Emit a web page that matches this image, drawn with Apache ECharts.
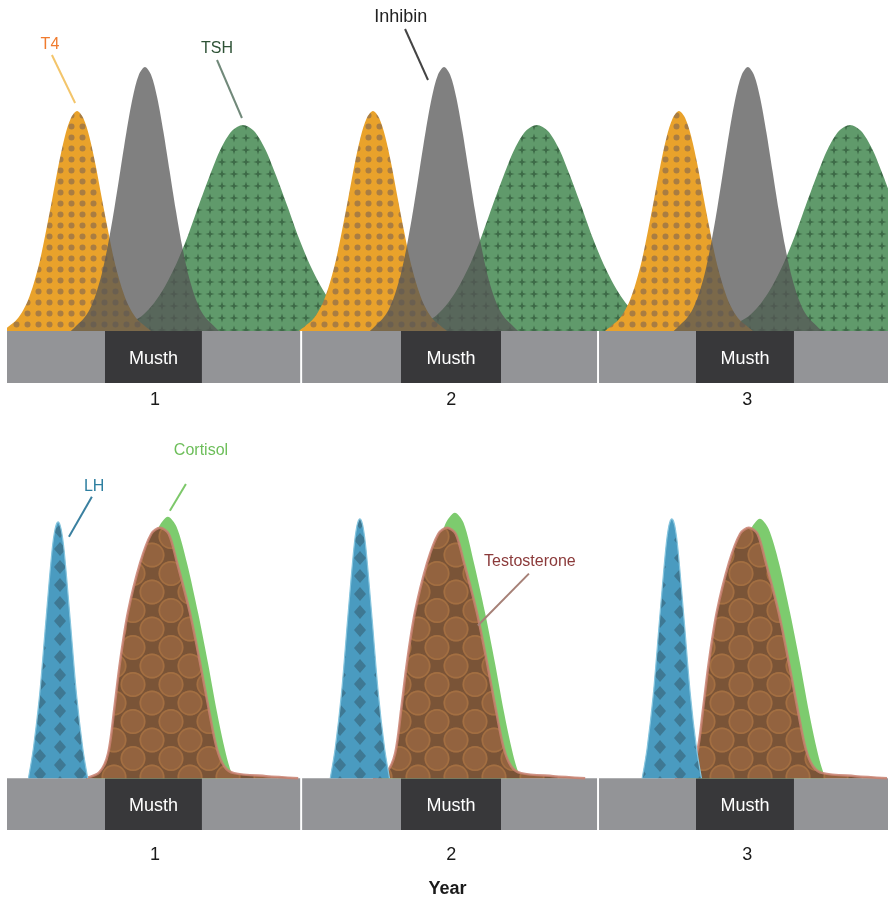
<!DOCTYPE html>
<html><head><meta charset="utf-8">
<script src="https://cdn.jsdelivr.net/npm/echarts@6/dist/echarts.min.js"></script>
<style>html,body{margin:0;padding:0;background:#fff}#c{width:888px;height:899px}</style>
</head><body><div id="c"></div>
<script>
// ---------- DATA (x = month since start, y = relative hormone level) ----------
const yearTicks = [6, 18, 30];
const yearLabels = ['1', '2', '3'];
const musthPeriods = [[3.97, 7.90], [15.96, 20.02], [27.92, 31.89]];
const yearBreaks = [11.92, 23.95];

const t4Level = [
  [-0.16,0],[0.09,5],[0.34,10],[0.59,18],[0.84,30],[1.09,48],[1.34,71],[1.59,101],[1.84,133],[2.09,166],[2.34,194],[2.59,213],[2.84,220],
  [3.09,213],[3.34,194],[3.59,166],[3.84,133],[4.09,101],[4.34,71],[4.59,48],[4.84,30],[5.09,18],[5.34,10],[5.59,5],[5.84,0],
  [8.8,'-'],
  [11.83,0],[12.08,5],[12.33,10],[12.58,18],[12.83,30],[13.08,48],[13.33,71],[13.58,101],[13.83,133],[14.08,166],[14.33,194],[14.58,213],[14.83,220],
  [15.08,213],[15.33,194],[15.58,166],[15.83,133],[16.08,101],[16.33,71],[16.58,48],[16.83,30],[17.08,18],[17.33,10],[17.58,5],[17.83,0],
  [21,'-'],
  [24.23,0],[24.48,5],[24.73,10],[24.98,18],[25.23,30],[25.48,48],[25.73,71],[25.98,101],[26.23,133],[26.48,166],[26.73,194],[26.98,213],[27.23,220],
  [27.48,213],[27.73,194],[27.98,166],[28.23,133],[28.48,101],[28.73,71],[28.98,48],[29.23,30],[29.48,18],[29.73,10],[29.98,5],[30.23,0]
];
const inhibinLevel = [
  [2.59,0],[2.84,6],[3.09,12],[3.34,21],[3.59,36],[3.84,57],[4.09,86],[4.34,121],[4.59,160],[4.84,199],[5.09,233],[5.34,256],[5.59,264],
  [5.84,256],[6.09,233],[6.34,199],[6.59,160],[6.84,121],[7.09,86],[7.34,57],[7.59,36],[7.84,21],[8.09,12],[8.34,6],[8.59,0],
  [11.5,'-'],
  [14.71,0],[14.96,6],[15.21,12],[15.46,21],[15.71,36],[15.96,57],[16.21,86],[16.46,121],[16.71,160],[16.96,199],[17.21,233],[17.46,256],[17.71,264],
  [17.96,256],[18.21,233],[18.46,199],[18.71,160],[18.96,121],[19.21,86],[19.46,57],[19.71,36],[19.96,21],[20.21,12],[20.46,6],[20.71,0],
  [24,'-'],
  [27.02,0],[27.27,6],[27.52,12],[27.77,21],[28.02,36],[28.27,57],[28.52,86],[28.77,121],[29.02,160],[29.27,199],[29.52,233],[29.77,256],[30.02,264],
  [30.27,256],[30.52,233],[30.77,199],[31.02,160],[31.27,121],[31.52,86],[31.77,57],[32.02,36],[32.27,21],[32.52,12],[32.77,6],[33.02,0]
];
const tshLevel = [
  [4.16,0],[4.61,5],[5.06,9],[5.51,16],[5.96,28],[6.41,45],[6.86,67],[7.31,94],[7.76,125],[8.21,155],[8.66,182],[9.11,200],[9.56,206],
  [10.01,200],[10.46,182],[10.91,155],[11.36,125],[11.81,94],[12.26,67],[12.71,45],[13.16,28],[13.61,16],[14.06,9],[14.51,5],[14.96,0],
  [15.5,'-'],
  [16.07,0],[16.52,5],[16.97,9],[17.42,16],[17.87,28],[18.32,45],[18.77,67],[19.22,94],[19.67,125],[20.12,155],[20.57,182],[21.02,200],[21.47,206],
  [21.92,200],[22.37,182],[22.82,155],[23.27,125],[23.72,94],[24.17,67],[24.62,45],[25.07,28],[25.52,16],[25.97,9],[26.42,5],[26.87,0],
  [27.8,'-'],
  [28.76,0],[29.21,5],[29.66,9],[30.11,16],[30.56,28],[31.01,45],[31.46,67],[31.91,94],[32.36,125],[32.81,155],[33.26,182],[33.71,200],[34.16,206],
  [34.61,200],[35.06,182],[35.51,155],[35.96,125]
];
const lhLevel = [
  [0.87,0],[1.07,30],[1.32,83],[1.57,156],[1.82,227],[1.95,250],[2.07,257],[2.19,250],[2.32,227],[2.57,156],[2.82,83],[3.07,30],[3.27,0],
  [8,'-'],
  [13.10,0],[13.30,30],[13.55,84],[13.80,158],[14.05,229],[14.18,253],[14.30,260],[14.42,253],[14.55,229],[14.80,158],[15.05,84],[15.30,30],[15.50,0],
  [20,'-'],
  [25.74,0],[25.94,30],[26.19,84],[26.44,158],[26.69,229],[26.82,253],[26.94,260],[27.06,253],[27.19,229],[27.44,158],[27.69,84],[27.94,30],[28.14,0]
];
const testosteroneLevel = [
  [3.20,0],[3.75,6],[4.10,25],[4.35,70],[4.58,116],[4.90,166],[5.40,216],[5.85,245],[6.20,251],[6.55,245],[6.89,216],[7.41,166],[7.82,116],[8.20,66],[8.50,30],[8.80,12],[9.20,5],[10.50,2],[11.80,0],
  [13.5,'-'],
  [14.83,0],[15.38,6],[15.73,25],[15.98,70],[16.21,116],[16.53,166],[17.03,216],[17.48,245],[17.83,251],[18.18,245],[18.52,216],[19.04,166],[19.45,116],[19.83,66],[20.13,30],[20.43,12],[20.83,5],[22.13,2],[23.43,0],
  [25.5,'-'],
  [27.06,0],[27.61,6],[27.96,25],[28.21,70],[28.44,116],[28.76,166],[29.26,216],[29.71,245],[30.06,251],[30.41,245],[30.75,216],[31.27,166],[31.68,116],[32.06,66],[32.36,30],[32.66,12],[33.06,5],[34.36,2],[35.66,0]
];
const cortisolLevel = [
  [3.52,0],[4.07,6],[4.42,25],[4.67,70],[4.90,116],[5.22,166],[5.67,216],[6.12,250],[6.52,262],[6.87,252],[7.29,216],[7.74,166],[8.14,116],[8.51,66],[8.77,35],[8.97,15],[9.17,0],
  [12,'-'],
  [15.15,0],[15.70,6],[16.05,25],[16.30,70],[16.53,116],[16.85,166],[17.30,216],[17.75,254],[18.15,266],[18.50,256],[18.92,216],[19.37,166],[19.77,116],[20.14,66],[20.40,35],[20.60,15],[20.80,0],
  [24,'-'],
  [27.51,0],[28.06,6],[28.41,25],[28.66,70],[28.89,116],[29.21,166],[29.66,216],[30.11,248],[30.51,260],[30.86,250],[31.28,216],[31.73,166],[32.13,116],[32.50,66],[32.76,35],[32.96,15],[33.16,0]
];

// ---------- PATTERNS ----------
function pattern(w, h, bg, draw) {
  const c = document.createElement('canvas'); c.width = w; c.height = h;
  const g = c.getContext('2d'); g.fillStyle = bg; g.fillRect(0, 0, w, h); draw(g);
  return { image: c, repeat: 'repeat' };
}
function star(g, cx, cy, R, r) {
  g.beginPath();
  for (let i = 0; i < 8; i++) {
    const a = i * Math.PI / 4 - Math.PI / 2, rad = i % 2 ? r : R;
    const x = cx + rad * Math.cos(a), y = cy + rad * Math.sin(a);
    i ? g.lineTo(x, y) : g.moveTo(x, y);
  }
  g.closePath(); g.fill();
}
function diamond(g, x, y, rx, ry) {
  g.beginPath(); g.moveTo(x, y - ry); g.lineTo(x + rx, y); g.lineTo(x, y + ry); g.lineTo(x - rx, y); g.closePath(); g.fill();
}
const t4Fill = pattern(11, 11, '#E9A22B', g => { g.fillStyle = '#A97D42'; g.beginPath(); g.arc(5.5, 5.5, 3, 0, Math.PI * 2); g.fill(); });
const tshFill = pattern(12, 12, '#609A6B', g => { g.fillStyle = '#3D6A47'; star(g, 6, 6, 4.6, 1.5); });
const lhFill = pattern(40, 18, '#4A9BC0', g => { g.fillStyle = '#3E7893'; [[0,0],[40,0],[0,18],[40,18],[20,9]].forEach(p => diamond(g, p[0], p[1], 6, 7)); });
const testFill = pattern(38, 37, '#7A5437', g => {
  [[0,0],[38,0],[0,37],[38,37],[19,18.5]].forEach(p => {
    g.fillStyle = '#93633F'; g.beginPath(); g.arc(p[0], p[1], 12.6, 0, Math.PI * 2); g.fill();
    g.strokeStyle = '#A36F42'; g.lineWidth = 1.6; g.beginPath(); g.arc(p[0], p[1], 11.6, 0, Math.PI * 2); g.stroke();
  });
});

// ---------- BAND (year strip with musth periods) ----------
const FONT = '"Liberation Sans", Arial, sans-serif';
const X_MAX = 35.7, BAND = -52;
function bandAreas() {
  const pieces = [];
  const edges = [[0, musthPeriods[0][0]], [musthPeriods[0][1], yearBreaks[0] - 0.04],
                 [yearBreaks[0] + 0.04, musthPeriods[1][0]], [musthPeriods[1][1], yearBreaks[1] - 0.04],
                 [yearBreaks[1] + 0.04, musthPeriods[2][0]], [musthPeriods[2][1], X_MAX]];
  edges.forEach(e => pieces.push([{ xAxis: e[0], yAxis: BAND, itemStyle: { color: '#939497' } }, { xAxis: e[1], yAxis: 0 }]));
  musthPeriods.forEach(m => pieces.push([{ xAxis: m[0], yAxis: BAND, name: 'Musth', itemStyle: { color: '#38383A' },
    label: { show: true, position: 'inside', offset: [0, 2], color: '#fff', fontSize: 18, fontFamily: FONT } }, { xAxis: m[1], yAxis: 0 }]));
  return pieces;
}
function bandSeries(idx) {
  return { type: 'line', xAxisIndex: idx, yAxisIndex: idx, data: [], silent: true,
    markArea: { silent: true, label: { show: false }, data: bandAreas() } };
}
function curve(idx, name, data, fill, z, line, extra) {
  return Object.assign({ type: 'line', name, xAxisIndex: idx, yAxisIndex: idx, data, smooth: 0.3, showSymbol: false,
    z, silent: true, lineStyle: line || { width: 0 }, areaStyle: { color: fill, opacity: 1 } }, extra || {});
}
function note(text, at, from, to, textColor, lineColor, size) {
  return {
    markLine: { silent: true, symbol: ['none', 'none'], label: { show: false }, animation: false,
      lineStyle: { color: lineColor, width: 2, type: 'solid' }, data: [[{ coord: from }, { coord: to }]] },
    markPoint: { silent: true, symbol: 'circle', symbolSize: 0, animation: false,
      label: { show: true, position: 'inside', formatter: '{b}', color: textColor, fontSize: size || 16, fontFamily: FONT },
      data: [{ name: text, coord: at }] }
  };
}

const xAxisBase = (idx, margin) => ({
  type: 'value', gridIndex: idx, min: 0, max: X_MAX, interval: 6,
  axisLine: { show: false }, axisTick: { show: false }, splitLine: { show: false },
  axisLabel: { margin, color: '#1a1a1a', fontSize: 18, fontFamily: FONT, showMaxLabel: false,
    formatter: v => { const i = yearTicks.indexOf(v); return i >= 0 ? yearLabels[i] : ''; } }
});

const option = {
  animation: false,
  grid: [
    { left: 7, right: 0, top: 5, bottom: 516 },
    { left: 7, right: 0, top: 440, bottom: 68 }
  ],
  xAxis: [
    xAxisBase(0, 8),
    Object.assign(xAxisBase(1, 16), { name: 'Year', nameLocation: 'middle', nameGap: 50,
      nameTextStyle: { fontWeight: 'bold', fontSize: 18, color: '#1a1a1a', fontFamily: FONT } })
  ],
  yAxis: [
    { type: 'value', gridIndex: 0, min: BAND, max: 326, show: false, splitLine: { show: false } },
    { type: 'value', gridIndex: 1, min: BAND, max: 339, show: false, splitLine: { show: false } }
  ],
  series: [
    bandSeries(0),
    curve(0, 'TSH', tshLevel, tshFill, 2, null, note('TSH', [8.51, 282], [8.51, 271], [9.52, 213], '#2E5236', '#71897A')),
    curve(0, 'T4', t4Level, t4Fill, 2, null, note('T4', [1.74, 286], [1.82, 276], [2.76, 228], '#F07B2E', '#F3C56B')),
    curve(0, 'Inhibin', inhibinLevel, 'rgba(85,85,85,0.75)', 3, null, note('Inhibin', [15.96, 314], [16.13, 302], [17.06, 251], '#222222', '#444444', 18)),
    bandSeries(1),
    curve(1, 'Cortisol', cortisolLevel, '#7DCB6E', 2, null, note('Cortisol', [7.86, 328], [7.25, 295], [6.60, 268], '#6DBE5A', '#7DC86A')),
    curve(1, 'Testosterone', testosteroneLevel, testFill, 3, { width: 2.5, color: 'rgba(200,128,112,0.85)' },
      note('Testosterone', [21.19, 217], [21.15, 205], [19.08, 153], '#8B3A3A', '#A68077')),
    curve(1, 'LH', lhLevel, lhFill, 4, { width: 1.2, color: '#86C5DE' }, note('LH', [3.53, 292], [3.44, 282], [2.51, 242], '#2E7FA0', '#3A80A0'))
  ]
};
const chart = echarts.init(document.getElementById('c'), null, { renderer: 'canvas' });
chart.setOption(option);
</script></body></html>
